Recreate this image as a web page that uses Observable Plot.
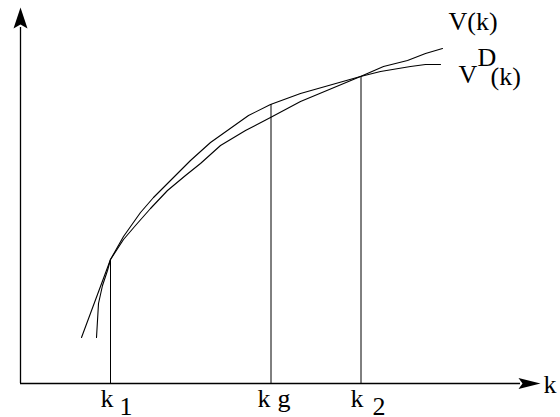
<!DOCTYPE html>
<html>
<head>
<meta charset="utf-8">
<script src="https://cdn.jsdelivr.net/npm/d3@7"></script>
<script src="https://cdn.jsdelivr.net/npm/@observablehq/plot@0.6"></script>
<style>
  html, body { margin: 0; padding: 0; background: #fff; }
  svg { display: block; }
</style>
</head>
<body>
<div id="chart"></div>
<script>
// Curve V(k)
const kV = [61, 90, 103, 115, 130, 147, 165, 180, 200, 225, 250, 280, 340, 363, 387, 405, 422];
const vV = [46, 124, 144, 158, 175, 193, 208, 220, 238, 253, 266, 282, 307, 317, 323, 330, 335];
// Curve V^D(k)
const kVD = [76, 78, 82, 87, 90, 103, 120, 133, 150, 170, 190, 228, 250, 280, 340, 360, 390, 405, 420];
const vVD = [46, 80, 98, 113, 124, 147, 171, 186, 203, 223, 241, 268, 279, 290, 307, 312, 317, 319, 319];
// Marked capital levels
const markK = [90, 250.5, 340.5];
const markTop = [124, 279, 307];
const markMain = ["k", "k", "k"];
const markSub = ["1", "g", "2"];
const markMainDx = [-10, -13.5, -10.5];
const markSubDx = [9, 6.5, 11.5];
const markSubDy = [31, 23, 31];
// Axes extents
const axisXEnd = 520, axisYEnd = 376;
// Curve labels
const labelText = ["V(k)", "V", "D", "(k)"];
const labelK = [428, 438, 457, 470];
const labelV = [354, 301, 318, 299];
const axisLabel = ["k"];

const lineV = kV.map((k, i) => ({k, v: vV[i]}));
const lineVD = kVD.map((k, i) => ({k, v: vVD[i]}));
const marks = markK.map((k, i) => ({k, top: markTop[i], main: markMain[i], sub: markSub[i], mdx: markMainDx[i], sdx: markSubDx[i], sdy: markSubDy[i]}));
const labels = labelText.map((t, i) => ({t, k: labelK[i], v: labelV[i]}));

const arrowX = {draw(ctx) { ctx.moveTo(0, 0); ctx.lineTo(-22, -5.5); ctx.lineTo(-18, 0); ctx.lineTo(-22, 5.5); ctx.closePath(); }};
const arrowY = {draw(ctx) { ctx.moveTo(0, 0); ctx.lineTo(-7, 21); ctx.lineTo(0, 17); ctx.lineTo(7, 21); ctx.closePath(); }};

const font = "'Liberation Serif', 'Times New Roman', serif";
const textOpts = {textAnchor: "start", lineAnchor: "bottom", fontSize: 26, fill: "#000"};

const chart = Plot.plot({
  width: 560,
  height: 417,
  marginTop: 0,
  marginLeft: 20,
  marginRight: 0,
  marginBottom: 34,
  x: {domain: [0, 540], axis: null},
  y: {domain: [0, 383], axis: null},
  style: {fontFamily: font, background: "#fff", overflow: "visible"},
  marks: [
    Plot.ruleY([0], {x1: 0, x2: axisXEnd - 20, stroke: "#000", strokeWidth: 1.3}),
    Plot.ruleX([0], {y1: 0, y2: axisYEnd - 20, stroke: "#000", strokeWidth: 1.3}),
    Plot.dot([{k: axisXEnd, v: 0}], {x: "k", y: "v", symbol: arrowX, fill: "#000", stroke: null, r: 5}),
    Plot.dot([{k: 0, v: axisYEnd}], {x: "k", y: "v", symbol: arrowY, fill: "#000", stroke: null, r: 5}),
    Plot.ruleX(marks, {x: "k", y1: 0, y2: "top", stroke: "#000", strokeWidth: 1}),
    Plot.line(lineV, {x: "k", y: "v", stroke: "#000", strokeWidth: 1.1}),
    Plot.line(lineVD, {x: "k", y: "v", stroke: "#000", strokeWidth: 1.1}),
    ...marks.map(m => Plot.text([m], {x: "k", y: 0, text: "main", dx: m.mdx, dy: 23, ...textOpts})),
    ...marks.map(m => Plot.text([m], {x: "k", y: 0, text: "sub", dx: m.sdx, dy: m.sdy, ...textOpts})),
    Plot.text(labels, {x: "k", y: "v", text: "t", ...textOpts}),
    Plot.text(axisLabel, {x: axisXEnd + 3, y: 0, text: d => d, dy: 9, ...textOpts})
  ]
});
document.getElementById("chart").appendChild(chart);
</script>
</body>
</html>
